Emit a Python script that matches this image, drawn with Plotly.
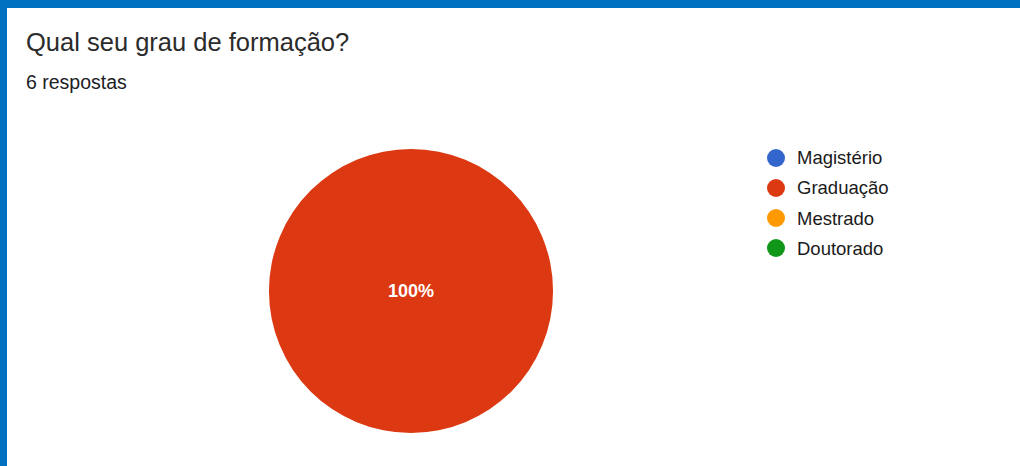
import plotly.graph_objects as go

# Survey answers: "Qual seu grau de formação?"
labels = ["Magistério", "Graduação", "Mestrado", "Doutorado"]
counts = [0, 6, 0, 0]
colors = ["#3366cc", "#dc3912", "#ff9900", "#109618"]
title_text = "Qual seu grau de formação?"
subtitle_text = "6 respostas"

W, H = 1020, 466

fig = go.Figure()
fig.add_trace(go.Pie(
    labels=labels,
    values=counts,
    marker=dict(colors=colors, line=dict(width=0)),
    sort=False,
    direction="clockwise",
    textinfo="percent",
    texttemplate="<b>%{percent:.0%}</b>",
    textposition="inside",
    insidetextfont=dict(family="Arial, Liberation Sans", size=18, color="white"),
    showlegend=False,
    hoverinfo="label+value+percent",
    domain=dict(x=[(411 - 143) / W, (411 + 143) / W],
                y=[(H - 291 - 142) / H, (H - 291 + 142) / H]),
))

shapes = [
    # frame bars along the top and left edges
    dict(type="rect", xref="paper", yref="paper", x0=0, x1=1, y0=1 - 8 / H, y1=1,
         fillcolor="#0070c0", line=dict(width=0), layer="above"),
    dict(type="rect", xref="paper", yref="paper", x0=0, x1=7 / W, y0=0, y1=1,
         fillcolor="#0070c0", line=dict(width=0), layer="above"),
]
annotations = [
    dict(text=title_text, x=24 / W, y=1 - 42 / H, xref="paper", yref="paper",
         xanchor="left", yanchor="middle", showarrow=False,
         font=dict(family="Arial, Liberation Sans", size=25.5, color="#2b2b2b")),
    dict(text=subtitle_text, x=24 / W, y=1 - 82 / H, xref="paper", yref="paper",
         xanchor="left", yanchor="middle", showarrow=False,
         font=dict(family="Arial, Liberation Sans", size=19.5, color="#202124")),
]

# legend: circle markers with labels, one row per category
for i, (lab, col) in enumerate(zip(labels, colors)):
    cy = 158 + 30 * i
    shapes.append(dict(type="circle", xref="paper", yref="paper",
                       x0=(776 - 9) / W, x1=(776 + 9) / W,
                       y0=1 - (cy + 9) / H, y1=1 - (cy - 9) / H,
                       fillcolor=col, line=dict(width=0)))
    annotations.append(dict(text=lab, x=795 / W, y=1 - cy / H, xref="paper", yref="paper",
                            xanchor="left", yanchor="middle", showarrow=False,
                            font=dict(family="Arial, Liberation Sans", size=18.5, color="#1a1a1a")))

fig.update_layout(
    width=W, height=H,
    margin=dict(l=0, r=0, t=0, b=0),
    paper_bgcolor="white",
    plot_bgcolor="white",
    shapes=shapes,
    annotations=annotations,
)

fig.write_html("out.html")
